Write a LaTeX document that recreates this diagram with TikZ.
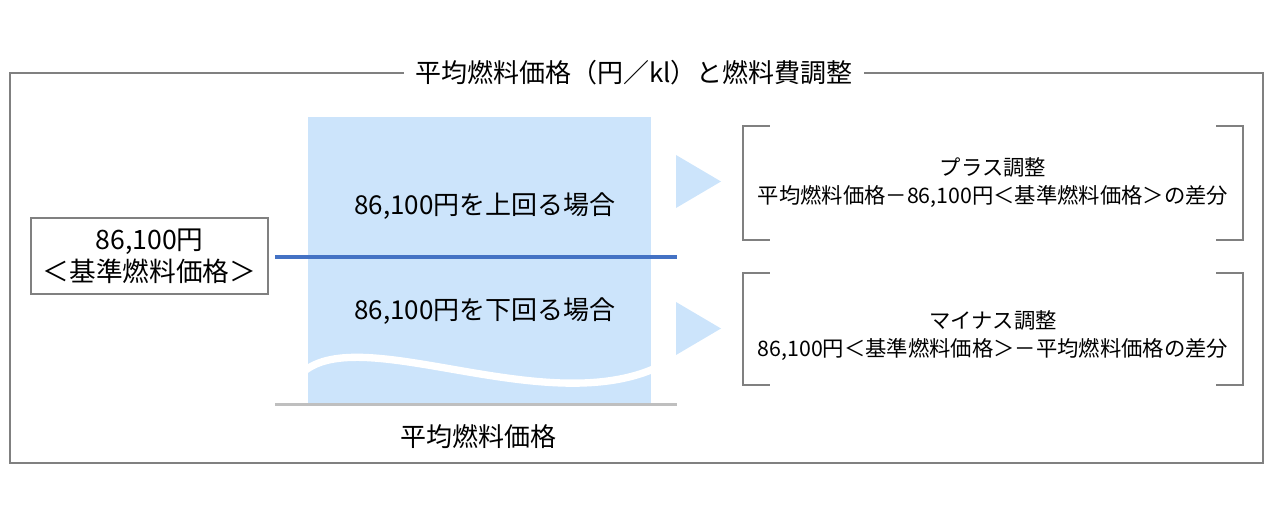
\documentclass[tikz,border=0pt]{standalone}
\usepackage{fontspec}
\newfontfamily\jp{Noto Sans CJK JP}
\definecolor{framegray}{HTML}{808080}
\definecolor{lightblue}{HTML}{CCE4FB}
\definecolor{lineblue}{HTML}{4472C4}
\definecolor{basegray}{HTML}{BFBFBF}
\tikzset{
  big/.style={font=\jp\fontsize{19.5}{23}\selectfont, text=black, inner sep=0pt},
  small/.style={font=\jp\fontsize{16}{21}\selectfont, text=black, inner sep=0pt, align=center},
  bracketline/.style={draw=framegray, line width=1.5pt},
}
\begin{document}
\begin{tikzpicture}[x=0.75pt, y=-0.75pt]
\useasboundingbox (0,0) rectangle (1273,509);
% outer frame
\draw[framegray, line width=1.5pt] (10,73) rectangle (1263,463);
\node[big, fill=white, inner xsep=8pt, inner ysep=3pt] (title) at (634,73) {平均燃料価格（円／kl）と燃料費調整};
% blue panel
\fill[lightblue] (308,117) rectangle (651,403);
\begin{scope}
\clip (308,117) rectangle (651,403);
\draw[white, line width=5.5pt] (300,375) .. controls (355,318) and (545,422) .. (660,366);
\end{scope}
% lines
\coordinate (bl) at (275,257);
\coordinate (br) at (677,257);
\draw[lineblue, line width=2.6pt] (bl) -- (br);
\coordinate (gl) at (275,404.5);
\coordinate (gr) at (677,404.5);
\draw[basegray, line width=2.6pt] (gl) -- (gr);
% panel texts
\node[big] (up) at (485,206) {86,100円を上回る場合};
\node[big] (down) at (485,311) {86,100円を下回る場合};
\node[big] (avg) at (478,437) {平均燃料価格};
% left box
\node[draw=framegray, line width=1.5pt, minimum width=237*0.75pt, minimum height=76*0.75pt, inner sep=0pt, align=center, font=\jp\fontsize{20}{24}\selectfont] (base) at (149.5,256) {86,100円\\＜基準燃料価格＞};
% triangles
\fill[lightblue] (676,155) -- (721,181.5) -- (676,208) -- cycle;
\fill[lightblue] (676,302) -- (721,328.5) -- (676,355) -- cycle;
% bracket boxes
\node[minimum width=500*0.75pt, minimum height=114*0.75pt, inner sep=0pt] (plus) at (993,183) {};
\node[minimum width=500*0.75pt, minimum height=112*0.75pt, inner sep=0pt] (minus) at (993,329) {};
\foreach \b in {plus,minus}{
  \draw[bracketline] ([xshift=20.25pt]\b.north west) -- (\b.north west) -- (\b.south west) -- ([xshift=20.25pt]\b.south west);
  \draw[bracketline] ([xshift=-20.25pt]\b.north east) -- (\b.north east) -- (\b.south east) -- ([xshift=-20.25pt]\b.south east);
}
\node[small] (plust) at (993,167) {プラス調整};
\node[small] (plusd) at (993,197) {平均燃料価格－86,100円＜基準燃料価格＞の差分};
\node[small] (minust) at (993,320) {マイナス調整};
\node[small] (minusd) at (993,350) {86,100円＜基準燃料価格＞－平均燃料価格の差分};
\end{tikzpicture}
\end{document}
